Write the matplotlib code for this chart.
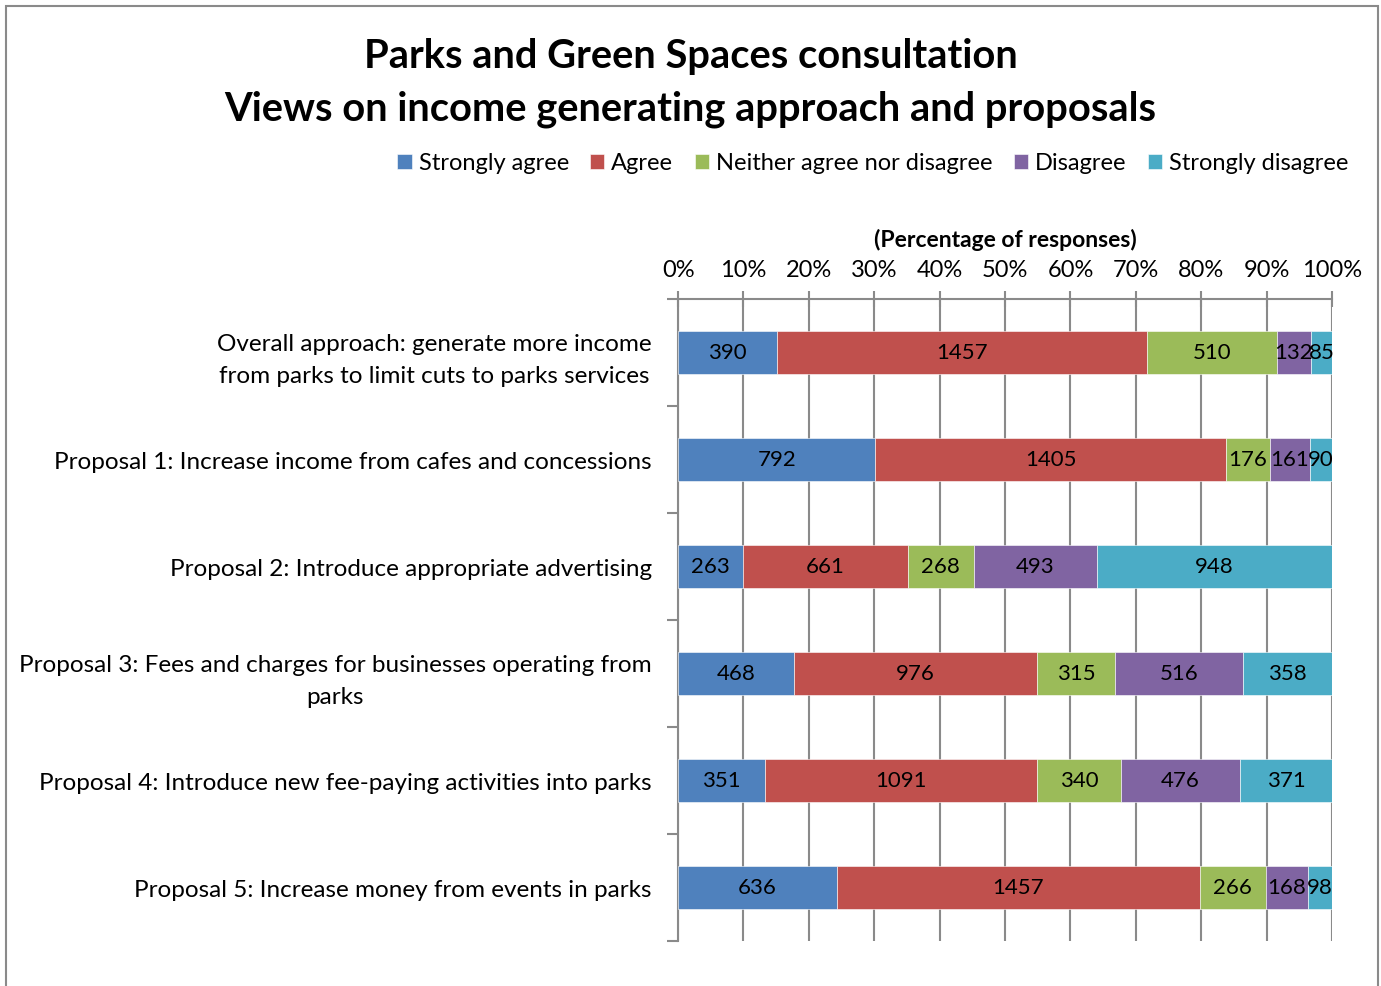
import matplotlib
matplotlib.use("Agg")
import matplotlib.pyplot as plt
import numpy as np
from matplotlib.patches import Rectangle

plt.rcParams["font.family"] = ["Lato", "DejaVu Sans"]

categories = [
    "Overall approach: generate more income\nfrom parks to limit cuts to parks services",
    "Proposal 1: Increase income from cafes and concessions",
    "Proposal 2: Introduce appropriate advertising",
    "Proposal 3: Fees and charges for businesses operating from\nparks",
    "Proposal 4: Introduce new fee-paying activities into parks",
    "Proposal 5: Increase money from events in parks",
]
series_names = ["Strongly agree", "Agree", "Neither agree nor disagree",
                "Disagree", "Strongly disagree"]
strongly_agree = [390, 792, 263, 468, 351, 636]
agree = [1457, 1405, 661, 976, 1091, 1457]
neither = [510, 176, 268, 315, 340, 266]
disagree = [132, 161, 493, 516, 476, 168]
strongly_disagree = [85, 90, 948, 358, 371, 98]
colors = ["#4F81BD", "#C0504D", "#9BBB59", "#8064A2", "#4BACC6"]
pct_ticks = [0, 10, 20, 30, 40, 50, 60, 70, 80, 90, 100]

counts = np.array([strongly_agree, agree, neither, disagree, strongly_disagree], dtype=float)
pcts = counts / counts.sum(axis=0) * 100

fig = plt.figure(figsize=(13.81, 9.87), dpi=100)
ax = fig.add_axes([0.491, 0.0456, 0.4736, 0.6505])

# figure border
fig.patches.append(Rectangle((6 / 1381, -0.05), 1372 / 1381, 1.05 - 7 / 987,
                             transform=fig.transFigure, fill=False,
                             edgecolor="#8a8a8a", linewidth=1.5))

y = np.arange(len(categories))
left = np.zeros(len(categories))
for i, name in enumerate(series_names):
    ax.barh(y, pcts[i], left=left, height=0.4, color=colors[i], label=name,
            edgecolor="white", linewidth=0.4, zorder=3)
    for j in range(len(categories)):
        ax.text(left[j] + pcts[i][j] / 2, y[j], f"{int(counts[i][j])}",
                ha="center", va="center", fontsize=16, color="black", zorder=4)
    left += pcts[i]

ax.set_xlim(0, 100)
ax.set_ylim(len(categories) - 0.5, -0.5)
ax.xaxis.tick_top()
ax.set_xticks(pct_ticks)
ax.set_xticklabels([f"{t}%" for t in pct_ticks], fontsize=17)
ax.tick_params(axis="x", direction="inout", length=12, width=1.5, color="#8a8a8a", pad=8)
ax.xaxis.set_label_position("top")
ax.set_xlabel("(Percentage of responses)", fontsize=16.5, fontweight="bold", labelpad=9)
ax.grid(axis="x", color="#8a8a8a", linewidth=1.5, zorder=0)

ax.set_yticks(y)
ax.set_yticklabels(categories, fontsize=17.5, multialignment="center", linespacing=1.6)
ax.tick_params(axis="y", length=0, pad=19)
ax.set_yticks(np.arange(len(categories) + 1) - 0.5, minor=True)
ax.tick_params(axis="y", which="minor", direction="out", length=8, width=1.5, color="#8a8a8a")

for s in ["right", "bottom"]:
    ax.spines[s].set_visible(False)
for s in ["top", "left"]:
    ax.spines[s].set_color("#8a8a8a")
    ax.spines[s].set_linewidth(1.5)

fig.text(0.5, 0.943, "Parks and Green Spaces consultation", ha="center", va="center",
         fontsize=28.7, fontweight="bold")
fig.text(0.5, 0.889, "Views on income generating approach and proposals", ha="center",
         va="center", fontsize=28.7, fontweight="bold")

fig.legend(loc="center", bbox_to_anchor=(0.632, 0.834), ncol=5, frameon=False,
           fontsize=17, handlelength=0.6, handleheight=0.6, handletextpad=0.3,
           columnspacing=0.9)

fig.savefig("out.png", dpi=100)
